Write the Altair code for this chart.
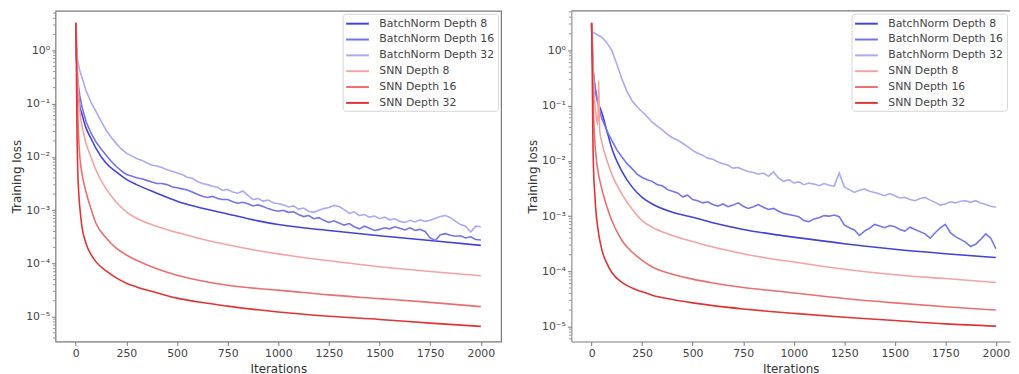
import altair as alt
import pandas as pd

SERIES = ["BatchNorm Depth 8", "BatchNorm Depth 16", "BatchNorm Depth 32",
          "SNN Depth 8", "SNN Depth 16", "SNN Depth 32"]
COLORS = ["#4242da", "#7373ec", "#a9a9f4", "#f4a3a3", "#ec6e6e", "#e03434"]
SMOOTH = [True, False, False, True, True, True]

X_TICKS = [0, 250, 500, 750, 1000, 1250, 1500, 1750, 2000]
Y_TICKS = [1e-5, 1e-4, 1e-3, 1e-2, 1e-1, 1]
MINOR_MULT = [2, 3, 4, 5, 6, 7, 8, 9]
MINOR_DECADES = [1e-6, 1e-5, 1e-4, 1e-3, 1e-2, 1e-1, 1]

# iteration grids
ITER_SMOOTH = [0, 3, 6, 10, 15, 20, 30, 50, 75, 100, 150, 200, 250, 300, 400,
               500, 600, 750, 900, 1000, 1250, 1500, 1750, 2000]
ITER_EARLY = [0, 3, 6, 10, 15, 20, 30, 50, 75, 100, 125, 150, 175, 200, 225]
ITER_TAIL = list(range(250, 2001, 25))
ITER_SPIKE = [0, 3, 6, 10, 15, 20, 30, 35, 40, 50, 75, 100, 150, 200, 250, 300,
              400, 500, 600, 750, 900, 1000, 1250, 1500, 1750, 2000]

# ---- left panel (log10 of training loss) ----
L_BN8 = [0.48, 0.0, -0.4, -0.7, -0.9, -1.05, -1.19, -1.45, -1.65, -1.84, -2.12, -2.28,
         -2.42, -2.52, -2.68, -2.83, -2.94, -3.07, -3.2, -3.27, -3.38, -3.48, -3.57, -3.66]
L_BN16_EARLY = [0.48, -0.1, -0.35, -0.55, -0.72, -0.85, -1.05, -1.33, -1.55, -1.72,
                -1.85, -1.97, -2.08, -2.18, -2.26]
L_BN16_TAIL = [-2.33, -2.36, -2.39, -2.41, -2.44, -2.47, -2.50, -2.50, -2.52, -2.56,
               -2.58, -2.60, -2.62, -2.66, -2.70, -2.74, -2.76, -2.74, -2.78, -2.80,
               -2.80, -2.84, -2.87, -2.85, -2.88, -2.92, -2.90, -2.93, -2.97, -3.00,
               -3.02, -3.00, -3.04, -3.03, -3.08, -3.12, -3.10, -3.16, -3.14, -3.19,
               -3.23, -3.20, -3.24, -3.28, -3.25, -3.31, -3.35, -3.30, -3.34, -3.38,
               -3.36, -3.33, -3.35, -3.31, -3.34, -3.37, -3.33, -3.38, -3.36, -3.40,
               -3.52, -3.57, -3.46, -3.44, -3.47, -3.49, -3.48, -3.52, -3.50, -3.55,
               -3.56]
L_BN32_EARLY = [0.48, 0.1, -0.1, -0.2, -0.3, -0.38, -0.5, -0.75, -0.97, -1.15,
                -1.33, -1.5, -1.63, -1.75, -1.85]
L_BN32_TAIL = [-1.93, -1.98, -2.03, -2.06, -2.11, -2.15, -2.17, -2.20, -2.24, -2.27,
               -2.30, -2.33, -2.38, -2.40, -2.46, -2.50, -2.52, -2.55, -2.57, -2.63,
               -2.61, -2.66, -2.68, -2.64, -2.72, -2.80, -2.78, -2.83, -2.81, -2.86,
               -2.88, -2.90, -2.94, -2.92, -2.98, -2.96, -3.02, -3.04, -3.00, -2.97,
               -2.95, -2.91, -2.93, -2.99, -3.06, -3.03, -3.10, -3.08, -3.13, -3.11,
               -3.16, -3.13, -3.18, -3.16, -3.21, -3.23, -3.19, -3.22, -3.18, -3.21,
               -3.19, -3.15, -3.12, -3.10, -3.14, -3.21, -3.27, -3.30, -3.41, -3.30,
               -3.31]
L_SNN8 = [0.52, 0.3, -0.1, -0.5, -0.92, -1.15, -1.4, -1.74, -2.0, -2.25, -2.6, -2.85,
          -3.03, -3.15, -3.3, -3.42, -3.52, -3.65, -3.76, -3.82, -3.95, -4.06, -4.15, -4.23]
L_SNN16 = [0.52, 0.18, -0.5, -1.2, -1.7, -2.0, -2.3, -2.65, -2.97, -3.25, -3.52, -3.71,
           -3.84, -3.94, -4.1, -4.22, -4.31, -4.41, -4.47, -4.5, -4.59, -4.66, -4.73, -4.81]
L_SNN32 = [0.52, -0.3, -1.5, -2.3, -2.7, -2.95, -3.3, -3.62, -3.83, -3.97, -4.14, -4.27,
           -4.37, -4.44, -4.55, -4.65, -4.72, -4.8, -4.87, -4.91, -4.99, -5.05, -5.12, -5.18]

# ---- right panel (log10 of training loss) ----
R_BN8 = [0.48, 0.1, -0.25, -0.45, -0.62, -0.75, -0.92, -1.12, -1.45, -1.77, -2.19, -2.47,
         -2.66, -2.78, -2.93, -3.02, -3.12, -3.24, -3.33, -3.38, -3.5, -3.6, -3.68, -3.75]
R_BN16_EARLY = [0.48, 0.1, -0.3, -0.45, -0.6, -0.72, -0.95, -1.23, -1.45, -1.63,
                -1.8, -1.93, -2.05, -2.14, -2.24]
R_BN16_TAIL = [-2.30, -2.34, -2.37, -2.43, -2.45, -2.52, -2.55, -2.58, -2.65, -2.62,
               -2.70, -2.72, -2.76, -2.74, -2.79, -2.82, -2.78, -2.83, -2.80, -2.76,
               -2.82, -2.86, -2.83, -2.79, -2.84, -2.88, -2.86, -2.91, -2.95, -2.97,
               -2.99, -3.01, -3.08, -3.10, -3.05, -3.03, -2.99, -3.00, -2.98, -3.01,
               -3.16, -3.21, -3.25, -3.35, -3.27, -3.22, -3.15, -3.18, -3.21, -3.17,
               -3.19, -3.24, -3.27, -3.20, -3.24, -3.28, -3.32, -3.40, -3.30, -3.21,
               -3.15, -3.30, -3.37, -3.42, -3.47, -3.55, -3.51, -3.42, -3.32, -3.40,
               -3.59]
R_BN32_EARLY = [0.33, 0.33, 0.32, 0.32, 0.31, 0.30, 0.28, 0.24, 0.14, 0.0,
                -0.25, -0.52, -0.74, -0.91, -1.02]
R_BN32_TAIL = [-1.11, -1.20, -1.30, -1.37, -1.44, -1.52, -1.58, -1.62, -1.68, -1.74,
               -1.81, -1.86, -1.90, -1.95, -1.97, -2.02, -2.05, -2.08, -2.13, -2.12,
               -2.16, -2.19, -2.21, -2.24, -2.22, -2.28, -2.20, -2.31, -2.37, -2.34,
               -2.40, -2.38, -2.43, -2.40, -2.42, -2.45, -2.41, -2.44, -2.46, -2.22,
               -2.47, -2.52, -2.57, -2.53, -2.51, -2.55, -2.57, -2.60, -2.63, -2.59,
               -2.63, -2.67, -2.66, -2.70, -2.72, -2.68, -2.66, -2.71, -2.75, -2.80,
               -2.78, -2.74, -2.76, -2.73, -2.72, -2.75, -2.72, -2.76, -2.79, -2.82,
               -2.84]
R_SNN8 = [0.5, 0.3, -0.1, -0.5, -0.9, -1.1, -1.35, -0.55, -1.45, -1.65, -1.98, -2.24, -2.6,
          -2.87, -3.08, -3.2, -3.35, -3.46, -3.56, -3.68, -3.78, -3.83, -3.96, -4.06, -4.13, -4.2]
R_SNN16 = [0.5, 0.2, -0.5, -1.2, -1.6, -1.85, -2.15, -2.5, -2.82, -3.08, -3.44, -3.65,
           -3.8, -3.92, -4.05, -4.14, -4.21, -4.29, -4.35, -4.39, -4.49, -4.57, -4.64, -4.7]
R_SNN32 = [0.5, -0.3, -1.5, -2.2, -2.55, -2.85, -3.2, -3.6, -3.85, -4.02, -4.2, -4.3,
           -4.37, -4.43, -4.51, -4.57, -4.62, -4.68, -4.73, -4.76, -4.83, -4.89, -4.95, -4.99]

LEFT = [
    (ITER_SMOOTH, L_BN8),
    (ITER_EARLY + ITER_TAIL, L_BN16_EARLY + L_BN16_TAIL),
    (ITER_EARLY + ITER_TAIL, L_BN32_EARLY + L_BN32_TAIL),
    (ITER_SMOOTH, L_SNN8),
    (ITER_SMOOTH, L_SNN16),
    (ITER_SMOOTH, L_SNN32),
]
RIGHT = [
    (ITER_SMOOTH, R_BN8),
    (ITER_EARLY + ITER_TAIL, R_BN16_EARLY + R_BN16_TAIL),
    (ITER_EARLY + ITER_TAIL, R_BN32_EARLY + R_BN32_TAIL),
    (ITER_SPIKE, R_SNN8),
    (ITER_SMOOTH, R_SNN16),
    (ITER_SMOOTH, R_SNN32),
]

FONT = "DejaVu Sans"
FRAME = "#7a7a7a"
LABEL_EXPR = ("'10' + (round(log(datum.value)/LN10) < 0 ? '\u207b' : '') + "
              "['\u2070','\u00b9','\u00b2','\u00b3','\u2074','\u2075','\u2076']"
              "[abs(round(log(datum.value)/LN10))]")


def panel(defs, xdom, ydom, width, height, open_right, legend_offset):
    xs = alt.Scale(domain=xdom, nice=False, zero=False)
    ys = alt.Scale(type="log", domain=ydom, nice=False)
    layers = []
    for (iters, logs), name, smooth in zip(defs, SERIES, SMOOTH):
        df = pd.DataFrame({"iter": iters, "loss": [10 ** v for v in logs],
                           "series": [name] * len(iters)})
        layers.append(
            alt.Chart(df).mark_line(
                strokeWidth=1.6, clip=True,
                interpolate="monotone" if smooth else "linear").encode(
                x=alt.X("iter:Q", scale=xs,
                        axis=alt.Axis(values=X_TICKS, format="d", title="Iterations",
                                      titlePadding=5,
                                      domain=open_right, domainColor=FRAME)),
                y=alt.Y("loss:Q", scale=ys,
                        axis=alt.Axis(values=Y_TICKS, labelExpr=LABEL_EXPR,
                                      title="Training loss", titlePadding=2,
                                      domain=open_right, domainColor=FRAME)),
                color=alt.Color("series:N",
                                scale=alt.Scale(domain=SERIES, range=COLORS),
                                legend=alt.Legend(
                                    title=None, orient="top-right",
                                    offset=legend_offset,
                                    symbolType="M-2,0H2", symbolSize=132,
                                    symbolStrokeWidth=2, symbolOffset=5,
                                    labelFontSize=11,
                                    labelFont=FONT, labelColor="#444",
                                    fillColor="white", strokeColor="#d6d6d6",
                                    padding=3, rowPadding=4, labelOffset=15,
                                    cornerRadius=3)),
            )
        )
    # minor log ticks on the y axis
    minor = [m * d for d in MINOR_DECADES for m in MINOR_MULT
             if ydom[0] <= m * d <= ydom[1]]
    layers.append(
        alt.Chart(pd.DataFrame({"v": minor})).mark_rule(
            color=FRAME, strokeWidth=0.8, clip=False).encode(
            y=alt.Y("v:Q", scale=ys), x=alt.value(-2.5), x2=alt.value(0))
    )
    if open_right:
        top = alt.Chart(pd.DataFrame({"a": [0]})).mark_rule(
            color=FRAME, strokeWidth=1.2).encode(
            x=alt.value(0), x2=alt.value(width), y=alt.value(0))
        layers.append(top)
        view = alt.ViewBackground(stroke=None)
    else:
        view = alt.ViewBackground(stroke=FRAME, strokeWidth=1.2)
    return alt.layer(*layers).properties(width=width, height=height, view=view)


left = panel(LEFT, [-100, 2100], [3.43e-6, 5.53], 450, 334, False, 3)
right = panel(RIGHT, [-100, 2070], [5.38e-6, 5.21], 443, 334, True, 3)

chart = alt.hconcat(left, right, spacing=24).resolve_scale(
    x="independent", y="independent"
).resolve_legend(color="independent").properties(
    padding={"left": 2, "top": 0, "right": 0, "bottom": 0}
).configure_axis(
    labelFont=FONT, titleFont=FONT, labelFontSize=11, titleFontSize=12,
    labelColor="#444", titleColor="#333", tickColor=FRAME, tickSize=4,
    labelPadding=2, grid=False, titleFontWeight="normal"
)

chart.save("out.html", embed_options={"renderer": "svg", "actions": False})
